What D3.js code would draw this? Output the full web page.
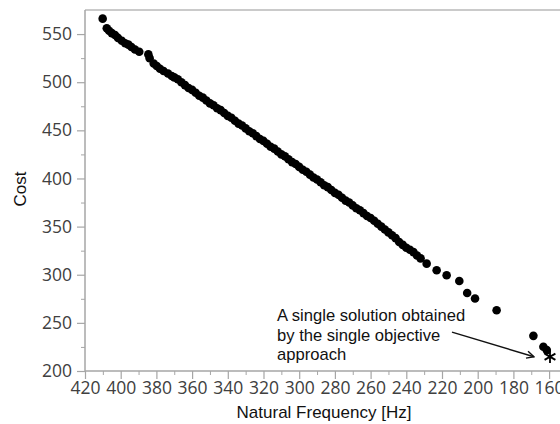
<!DOCTYPE html>
<html>
<head>
<meta charset="utf-8">
<script src="https://cdn.jsdelivr.net/npm/d3@7"></script>
<style>
  body { margin: 0; background: #fff; }
  svg { display: block; }
</style>
</head>
<body>
<svg id="chart" width="560" height="424"></svg>
<script>
'use strict';

// Pareto front (Hz, cost)
const frequency = [
  410.1, 407.8, 406.5, 405.0, 403.2, 401.5, 399.4, 397.5, 395.7, 394.0, 392.0, 389.6,
  384.5, 383.8, 381.5, 379.8, 378.0, 376.0, 373.5, 371.4,
  370, 368, 366, 364, 362, 360, 358, 356, 354, 352, 350, 348, 346, 344, 342, 340,
  338, 336, 334, 332, 330, 328, 326, 324, 322, 320, 318, 316, 314, 312, 310, 308,
  306, 304, 302, 300, 298, 296, 294, 292, 290, 288, 286, 284, 282, 280, 278, 276,
  274, 272, 270, 268, 266, 264, 262, 260, 258, 256, 254, 252, 250, 248, 246,
  244, 242, 240, 238, 236, 234, 232, 228.6, 223.0, 217.4, 210.3, 205.9, 201.5,
  189.4, 168.8, 163.2, 161.3
];
const cost = [
  566, 556, 553.5, 551, 549, 546, 543, 540.5, 539, 536.5, 534, 531.6,
  528.9, 525, 519.5, 516.8, 514, 511.6, 509, 506.4,
  505, 503, 500, 497, 494, 492, 489, 486, 484, 481, 478, 476, 473, 471, 468, 465,
  463, 460, 457, 455, 452, 449, 447, 444, 441, 439, 436, 433, 431, 428, 425, 423,
  420, 417, 415, 412, 409, 407, 404, 401, 399, 396, 393, 391, 388, 385, 383, 380,
  377, 375, 372, 369, 367, 364, 361, 359, 356, 353, 350, 347, 344, 341, 338,
  334, 331, 328, 326, 323.5, 320, 317, 311.5, 304.6, 299.4, 293.5, 281, 275.3,
  263.1, 236.5, 225.2, 221.7
];

// single objective solution
const singleFreq = 159.5;
const singleCost = 214.8;

const xTicks = [420, 400, 380, 360, 340, 320, 300, 280, 260, 240, 220, 200, 180, 160];
const yTicks = [200, 250, 300, 350, 400, 450, 500, 550];
const noteLines = ['A single solution obtained', 'by the single objective', 'approach'];
const arrowFrom = [214.4, 240.4];
const arrowTo = [168.5, 214.8];

const svg = d3.select('#chart');
const margin = { left: 85, top: 10, bottom: 53 };
const H = 424;

const x = d3.scaleLinear().domain([420, 150]).range([margin.left, margin.left + 270 * 1.785]);
const y = d3.scaleLinear().domain([200, 575]).range([H - margin.bottom, margin.top]);

const axisColor = '#a6a6a6';
const labelFont = '"Open Sans", "Noto Sans", sans-serif';
const titleFont = '"Liberation Sans", Arial, sans-serif';

// top frame line
svg.append('line')
  .attr('x1', margin.left).attr('x2', 560)
  .attr('y1', margin.top).attr('y2', margin.top)
  .attr('stroke', '#b8b8b8').attr('stroke-width', 1.5);

// minor ticks
svg.append('g')
  .attr('transform', `translate(0,${y(200)})`)
  .call(d3.axisBottom(x).tickValues(d3.range(410, 150, -20)).tickSize(4).tickFormat(''))
  .call(g => g.select('.domain').remove())
  .call(g => g.selectAll('line').attr('stroke', axisColor));
svg.append('g')
  .attr('transform', `translate(${margin.left},0)`)
  .call(d3.axisLeft(y).tickValues(d3.range(225, 575, 50)).tickSize(4).tickFormat(''))
  .call(g => g.select('.domain').remove())
  .call(g => g.selectAll('line').attr('stroke', axisColor));

const xAxis = svg.append('g')
  .attr('transform', `translate(0,${y(200)})`)
  .call(d3.axisBottom(x).tickValues(xTicks).tickSize(8).tickSizeOuter(0).tickPadding(3));
const yAxis = svg.append('g')
  .attr('transform', `translate(${margin.left},0)`)
  .call(d3.axisLeft(y).tickValues(yTicks).tickSize(8).tickSizeOuter(0).tickPadding(5));

[xAxis, yAxis].forEach(g => {
  g.select('.domain').attr('stroke', axisColor).attr('stroke-width', 1.5);
  g.selectAll('line').attr('stroke', axisColor).attr('stroke-width', 1.2);
  g.selectAll('text')
    .attr('fill', '#404040')
    .style('font-family', labelFont)
    .style('font-size', '17.5px');
});
xAxis.select('.domain').attr('d', `M${margin.left},0H560`);
yAxis.select('.domain').attr('d', `M0,${y(200)}V${margin.top}`);

// axis titles
svg.append('text')
  .attr('x', 324).attr('y', 418)
  .attr('text-anchor', 'middle')
  .style('font-family', titleFont).style('font-size', '17px')
  .attr('fill', '#111')
  .text('Natural Frequency [Hz]');
svg.append('text')
  .attr('transform', 'translate(26,189) rotate(-90)')
  .attr('text-anchor', 'middle')
  .style('font-family', titleFont).style('font-size', '17px')
  .attr('fill', '#111')
  .text('Cost');

// points
const pts = frequency.map((f, i) => [f, cost[i]]);
svg.append('g')
  .selectAll('circle')
  .data(pts)
  .join('circle')
  .attr('cx', d => x(d[0]))
  .attr('cy', d => y(d[1]))
  .attr('r', 4.3)
  .attr('fill', '#000');

// single objective marker
svg.append('path')
  .attr('d', d3.symbol(d3.symbolAsterisk, 110)())
  .attr('transform', `translate(${x(singleFreq)},${y(singleCost)})`)
  .attr('fill', 'none')
  .attr('stroke', '#000')
  .attr('stroke-width', 1.8);

// annotation
svg.append('defs').append('marker')
  .attr('id', 'head')
  .attr('viewBox', '0 0 10 10')
  .attr('refX', 9).attr('refY', 5)
  .attr('markerWidth', 9).attr('markerHeight', 9)
  .attr('markerUnits', 'userSpaceOnUse')
  .attr('orient', 'auto')
  .append('path')
  .attr('d', 'M1,1L9,5L1,9')
  .attr('fill', 'none')
  .attr('stroke', '#111')
  .attr('stroke-width', 1.6);

svg.append('line')
  .attr('x1', x(arrowFrom[0])).attr('y1', y(arrowFrom[1]))
  .attr('x2', x(arrowTo[0])).attr('y2', y(arrowTo[1]))
  .attr('stroke', '#111')
  .attr('stroke-width', 1.5)
  .attr('marker-end', 'url(#head)');

svg.append('text')
  .style('font-family', titleFont).style('font-size', '16.6px')
  .attr('fill', '#111')
  .selectAll('tspan')
  .data(noteLines)
  .join('tspan')
  .attr('x', 277)
  .attr('y', (d, i) => 321 + i * 19.5)
  .text(d => d);
</script>
</body>
</html>
